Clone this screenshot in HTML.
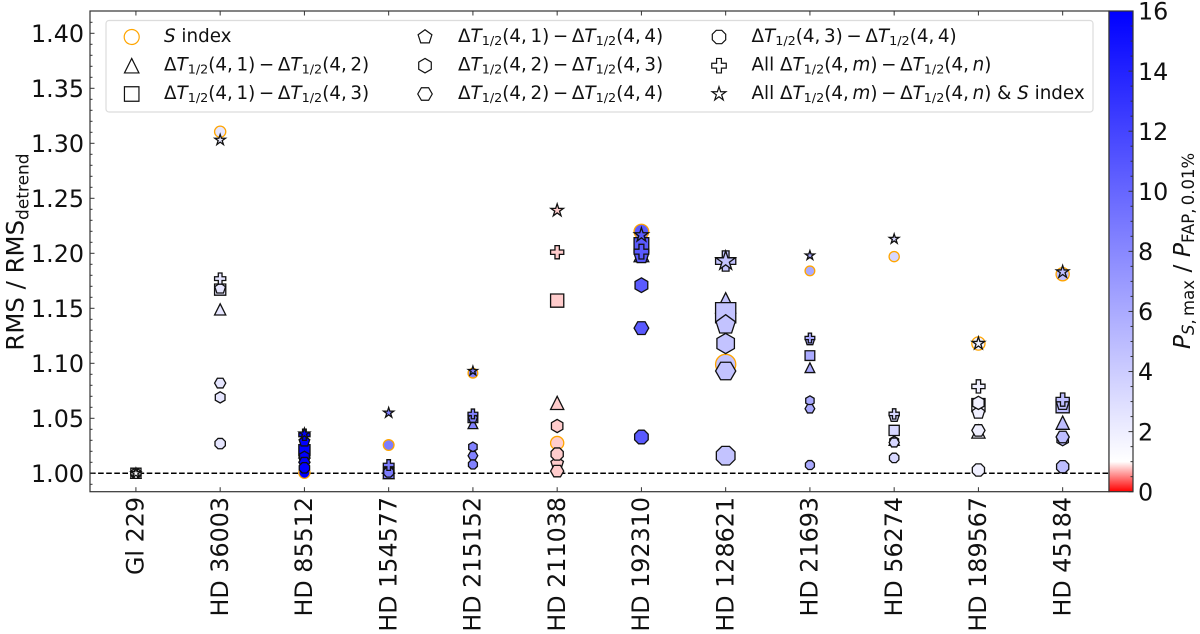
<!DOCTYPE html>
<html lang="en">
<head>
<meta charset="utf-8">
<title>RMS ratio per star</title>
<style>
html,body{margin:0;padding:0;background:#fff;width:1200px;height:634px;overflow:hidden}
svg{display:block;font-family:"DejaVu Sans","Liberation Sans",sans-serif;fill:#000}
.mi{font-style:italic}
</style>
</head>
<body>
<svg id="chart" xmlns="http://www.w3.org/2000/svg" width="1200" height="634" viewBox="0 0 1200 634">
  <defs>
    <linearGradient id="cbar-gradient" x1="0" y1="1" x2="0" y2="0">
      <stop offset="0" stop-color="#ff0000"/>
      <stop offset="0.0625" stop-color="#ffffff"/>
      <stop offset="1" stop-color="#0000ff"/>
    </linearGradient>
  </defs>
  <rect x="90" y="11" width="1019" height="480.7" fill="#fff"/>
  <g id="grid-layer"></g>
  <g id="marks-layer"></g>
  <g id="axis-layer"></g>
  <rect x="90" y="11" width="1019" height="480.7" fill="none" stroke="#333" stroke-width="1.2"/>

  <g>
    <rect x="106" y="20.5" width="987" height="91.5" rx="3" fill="#fff" fill-opacity="0.8" stroke="#dcdcdc" stroke-width="1.2"/>
    <g id="legend-handles"></g>
    <g font-size="18.3" fill="#111">
      <text x="164" y="42"><tspan class="mi">S</tspan> index</text>
      <text x="164" y="70.5">Δ<tspan class="mi">T</tspan><tspan font-size="12.8" dy="3">1/2</tspan><tspan dy="-3">(4,&#8201;1)&#8201;−&#8201;Δ</tspan><tspan class="mi">T</tspan><tspan font-size="12.8" dy="3">1/2</tspan><tspan dy="-3">(4,&#8201;2)</tspan></text>
      <text x="164" y="99">Δ<tspan class="mi">T</tspan><tspan font-size="12.8" dy="3">1/2</tspan><tspan dy="-3">(4,&#8201;1)&#8201;−&#8201;Δ</tspan><tspan class="mi">T</tspan><tspan font-size="12.8" dy="3">1/2</tspan><tspan dy="-3">(4,&#8201;3)</tspan></text>
      <text x="458" y="42">Δ<tspan class="mi">T</tspan><tspan font-size="12.8" dy="3">1/2</tspan><tspan dy="-3">(4,&#8201;1)&#8201;−&#8201;Δ</tspan><tspan class="mi">T</tspan><tspan font-size="12.8" dy="3">1/2</tspan><tspan dy="-3">(4,&#8201;4)</tspan></text>
      <text x="458" y="70.5">Δ<tspan class="mi">T</tspan><tspan font-size="12.8" dy="3">1/2</tspan><tspan dy="-3">(4,&#8201;2)&#8201;−&#8201;Δ</tspan><tspan class="mi">T</tspan><tspan font-size="12.8" dy="3">1/2</tspan><tspan dy="-3">(4,&#8201;3)</tspan></text>
      <text x="458" y="99">Δ<tspan class="mi">T</tspan><tspan font-size="12.8" dy="3">1/2</tspan><tspan dy="-3">(4,&#8201;2)&#8201;−&#8201;Δ</tspan><tspan class="mi">T</tspan><tspan font-size="12.8" dy="3">1/2</tspan><tspan dy="-3">(4,&#8201;4)</tspan></text>
      <text x="751.5" y="42">Δ<tspan class="mi">T</tspan><tspan font-size="12.8" dy="3">1/2</tspan><tspan dy="-3">(4,&#8201;3)&#8201;−&#8201;Δ</tspan><tspan class="mi">T</tspan><tspan font-size="12.8" dy="3">1/2</tspan><tspan dy="-3">(4,&#8201;4)</tspan></text>
      <text x="751.5" y="70.5">All Δ<tspan class="mi">T</tspan><tspan font-size="12.8" dy="3">1/2</tspan><tspan dy="-3">(4,&#8201;</tspan><tspan class="mi">m</tspan>)&#8201;−&#8201;Δ<tspan class="mi">T</tspan><tspan font-size="12.8" dy="3">1/2</tspan><tspan dy="-3">(4,&#8201;</tspan><tspan class="mi">n</tspan>)</text>
      <text x="751.5" y="99">All Δ<tspan class="mi">T</tspan><tspan font-size="12.8" dy="3">1/2</tspan><tspan dy="-3">(4,&#8201;</tspan><tspan class="mi">m</tspan>)&#8201;−&#8201;Δ<tspan class="mi">T</tspan><tspan font-size="12.8" dy="3">1/2</tspan><tspan dy="-3">(4,&#8201;</tspan><tspan class="mi">n</tspan>) &amp; <tspan class="mi">S</tspan> index</text>
    </g>
  </g>

  <text transform="translate(23.5,252) rotate(-90)" text-anchor="middle" font-size="24.4" fill="#111">RMS / RMS<tspan font-size="17" dy="5">detrend</tspan></text>

  <g>
    <rect x="1109" y="11" width="24" height="480.7" fill="url(#cbar-gradient)" stroke="#333" stroke-width="1.2"/>
    <g id="colorbar-axis"></g>
  </g>
  <text transform="translate(1190,251) rotate(-90)" text-anchor="middle" font-size="23.5" fill="#111"><tspan class="mi">P</tspan><tspan font-size="16.5" dy="4"><tspan class="mi">S</tspan>,&#8201;max</tspan><tspan dy="-4"> / </tspan><tspan class="mi">P</tspan><tspan font-size="16.5" dy="4">FAP,&#8201;0.01%</tspan></text>
</svg>
<script>
// ---- data ----
const categories = ['Gl 229','HD 36003','HD 85512','HD 154577','HD 215152','HD 211038','HD 192310','HD 128621','HD 21693','HD 56274','HD 189567','HD 45184'];
const sIndexValues = [1.000,1.3105,1.0005,1.0257,1.091,1.0275,1.2197,1.099,1.184,1.197,1.118,1.181];
const d12Values = [1.000,1.149,1.019,1.000,1.045,1.064,1.199,1.155,1.096,1.030,1.038,1.046];
const d13Values = [1.000,1.167,1.021,1.000,1.0505,1.157,1.2075,1.146,1.107,1.039,1.062,1.061];
const d14Values = [1.000,1.168,1.029,1.005,1.050,1.009,1.197,1.135,1.1205,1.051,1.055,1.063];
const d23Values = [1.000,1.069,1.015,1.003,1.024,1.043,1.171,1.118,1.066,1.029,1.064,1.031];
const d24Values = [1.000,1.082,1.010,1.002,1.016,1.002,1.132,1.093,1.0587,1.028,1.039,1.033];
const d34Values = [1.000,1.027,1.005,1.001,1.008,1.0175,1.033,1.016,1.0075,1.014,1.003,1.006];
const allValues = [1.000,1.177,1.035,1.0075,1.054,1.201,1.2015,1.193,1.123,1.054,1.079,1.067];
const allSValues = [1.000,1.303,1.036,1.055,1.093,1.239,1.2166,1.193,1.198,1.213,1.118,1.183];
const powerRatio = [1.2,2.47,16,8.65,8.35,0.8,10.7,4.5,6,3.35,1.9,4.8];
const markerWeight = [11,12,12,11.5,10.5,14,15.5,21,10.5,11,14,14];
const yTickLabels = ['1.00','1.05','1.10','1.15','1.20','1.25','1.30','1.35','1.40'];
const cbarTickLabels = ['0','2','4','6','8','10','12','14','16'];

// ---- scales ----
const NS = 'http://www.w3.org/2000/svg';
const plot = {left:90,right:1109,top:11,bottom:491.7};
function xScale(i){ return plot.left + (i + 0.545) * 84.25; }
function yScale(v){ return 473.3 - (v - 1) * 1100; }
function cbarScale(v){ return plot.bottom - v * (plot.bottom - plot.top) / 16; }
function sizeScale(w){ return w - 0.8; }
function colorScale(v){
  const c = Math.max(0, Math.min(16, v));
  if (c < 1) { const g = Math.round(255 * c); return 'rgb(255,' + g + ',' + g + ')'; }
  const g = Math.round(255 * (1 - (c - 1) / 15));
  return 'rgb(' + g + ',' + g + ',255)';
}
function mk(tag, attrs, parent){
  const el = document.createElementNS(NS, tag);
  for (const k in attrs) el.setAttribute(k, attrs[k]);
  parent.appendChild(el);
  return el;
}

// ---- marker shapes ----
function polygon(n, r, startDeg, cx, cy){
  const pts = [];
  for (let k = 0; k < n; k++) {
    const a = (startDeg + k * 360 / n) * Math.PI / 180;
    pts.push((cx + r * Math.cos(a)).toFixed(2) + ',' + (cy + r * Math.sin(a)).toFixed(2));
  }
  return pts.join(' ');
}
function shapePoints(shape, d, cx, cy){
  const r = d / 2;
  if (shape === 'triangle') return [cx, cy - r, cx + r, cy + r, cx - r, cy + r].map(n => n.toFixed(2)).join(' ');
  if (shape === 'square') return [cx - r, cy - r, cx + r, cy - r, cx + r, cy + r, cx - r, cy + r].map(n => n.toFixed(2)).join(' ');
  if (shape === 'pentagon') return polygon(5, r, -90, cx, cy);
  if (shape === 'hexagon1') return polygon(6, r, -90, cx, cy);
  if (shape === 'hexagon2') return polygon(6, r, 0, cx, cy);
  if (shape === 'octagon') return polygon(8, r, 22.5, cx, cy);
  if (shape === 'plus') {
    const t = r / 3;
    return [[-t,-r],[t,-r],[t,-t],[r,-t],[r,t],[t,t],[t,r],[-t,r],[-t,t],[-r,t],[-r,-t],[-t,-t]]
      .map(p => (cx + p[0]).toFixed(2) + ',' + (cy + p[1]).toFixed(2)).join(' ');
  }
  if (shape === 'star') {
    const pts = [];
    for (let k = 0; k < 10; k++) {
      const rad = k % 2 ? r * 0.382 : r;
      const a = (-90 + k * 36) * Math.PI / 180;
      pts.push((cx + rad * Math.cos(a)).toFixed(2) + ',' + (cy + rad * Math.sin(a)).toFixed(2));
    }
    return pts.join(' ');
  }
  return '';
}
function drawMarker(parent, shape, cx, cy, d, fill, edge, width){
  if (shape === 'circle') {
    return mk('circle', {cx: cx, cy: cy, r: d / 2, fill: fill, stroke: edge, 'stroke-width': width}, parent);
  }
  return mk('polygon', {points: shapePoints(shape, d, cx, cy), fill: fill, stroke: edge, 'stroke-width': width, 'stroke-linejoin': 'miter'}, parent);
}

// ---- reference line ----
const refLine = mk('line', {x1: plot.left, x2: plot.right, y1: yScale(1), y2: yScale(1), stroke: '#000', 'stroke-width': 1.5, 'stroke-dasharray': '5.6 2.5'}, document.getElementById('grid-layer'));



// ---- series (draw order bottom to top) ----
const seriesList = [
  {key: 's-index', shape: 'circle', values: sIndexValues, edge: '#ffa500'},
  {key: 'd41-d42', shape: 'triangle', values: d12Values, edge: '#111'},
  {key: 'd41-d43', shape: 'square', values: d13Values, edge: '#111'},
  {key: 'd41-d44', shape: 'pentagon', values: d14Values, edge: '#111'},
  {key: 'd42-d43', shape: 'hexagon1', values: d23Values, edge: '#111'},
  {key: 'd42-d44', shape: 'hexagon2', values: d24Values, edge: '#111'},
  {key: 'd43-d44', shape: 'octagon', values: d34Values, edge: '#111'},
  {key: 'all', shape: 'plus', values: allValues, edge: '#111'},
  {key: 'all-s-index', shape: 'star', values: allSValues, edge: '#111'}
];
const marksLayer = document.getElementById('marks-layer');
seriesList.forEach(function(series){
  const g = mk('g', {}, marksLayer);
  
  
  series.values.forEach(function(v, i){
    const m = drawMarker(g, series.shape, xScale(i), yScale(v), sizeScale(markerWeight[i]), colorScale(powerRatio[i]), series.edge, 1.3);
    
    
  });
});

// ---- legend handles ----
const legendHandles = document.getElementById('legend-handles');
const handleSpots = [[0,0],[0,1],[0,2],[1,0],[1,1],[1,2],[2,0],[2,1],[2,2]];
const handleCols = [131.7, 425, 719];
const handleRows = [37, 65.7, 94];
seriesList.forEach(function(series, i){
  const spot = handleSpots[i];
  const d = series.shape === 'circle' ? 15 : 14.5;
  const h = drawMarker(legendHandles, series.shape, handleCols[spot[0]], handleRows[spot[1]], d, '#fff', series.edge, 1.2);
  
  
});

// ---- axes ----
const axisLayer = document.getElementById('axis-layer');
categories.forEach(function(name, i){
  const x = xScale(i);
  const tb = mk('line', {x1: x, x2: x, y1: plot.bottom, y2: plot.bottom - 4.5, stroke: '#333', 'stroke-width': 1}, axisLayer);
  
  
  const tt = mk('line', {x1: x, x2: x, y1: plot.top, y2: plot.top + 4.5, stroke: '#333', 'stroke-width': 1}, axisLayer);
  
  
  const label = mk('text', {transform: 'translate(' + (x + 7.8) + ',497) rotate(-90)', 'text-anchor': 'end', 'font-size': 23.8, fill: '#111'}, axisLayer);
  label.textContent = name;
  
  
});
for (let k = 99; k <= 141; k++) {
  const v = k / 100;
  const major = k % 5 === 0;
  const t = mk('line', {x1: plot.left, x2: plot.left + (major ? 4.5 : 2.5), y1: yScale(v), y2: yScale(v), stroke: '#333', 'stroke-width': 1}, axisLayer);
  
  
}
yTickLabels.forEach(function(txt){
  const label = mk('text', {x: 84, y: yScale(parseFloat(txt)) + 8.7, 'text-anchor': 'end', 'font-size': 23.8, fill: '#111'}, axisLayer);
  label.textContent = txt;
  
  
});

// ---- colorbar axis ----
const cbarAxis = document.getElementById('colorbar-axis');
for (let k = 0; k <= 32; k++) {
  const v = k / 2;
  const major = k % 4 === 0;
  const t = mk('line', {x1: 1133, x2: 1133 - (major ? 4.5 : 2.5), y1: cbarScale(v), y2: cbarScale(v), stroke: '#333', 'stroke-width': 1}, cbarAxis);
  
  
}
cbarTickLabels.forEach(function(txt){
  const label = mk('text', {x: 1138, y: cbarScale(parseFloat(txt)) + 8.7, 'font-size': 23.8, fill: '#111'}, cbarAxis);
  label.textContent = txt;
  
  
});
</script>
</body>
</html>
